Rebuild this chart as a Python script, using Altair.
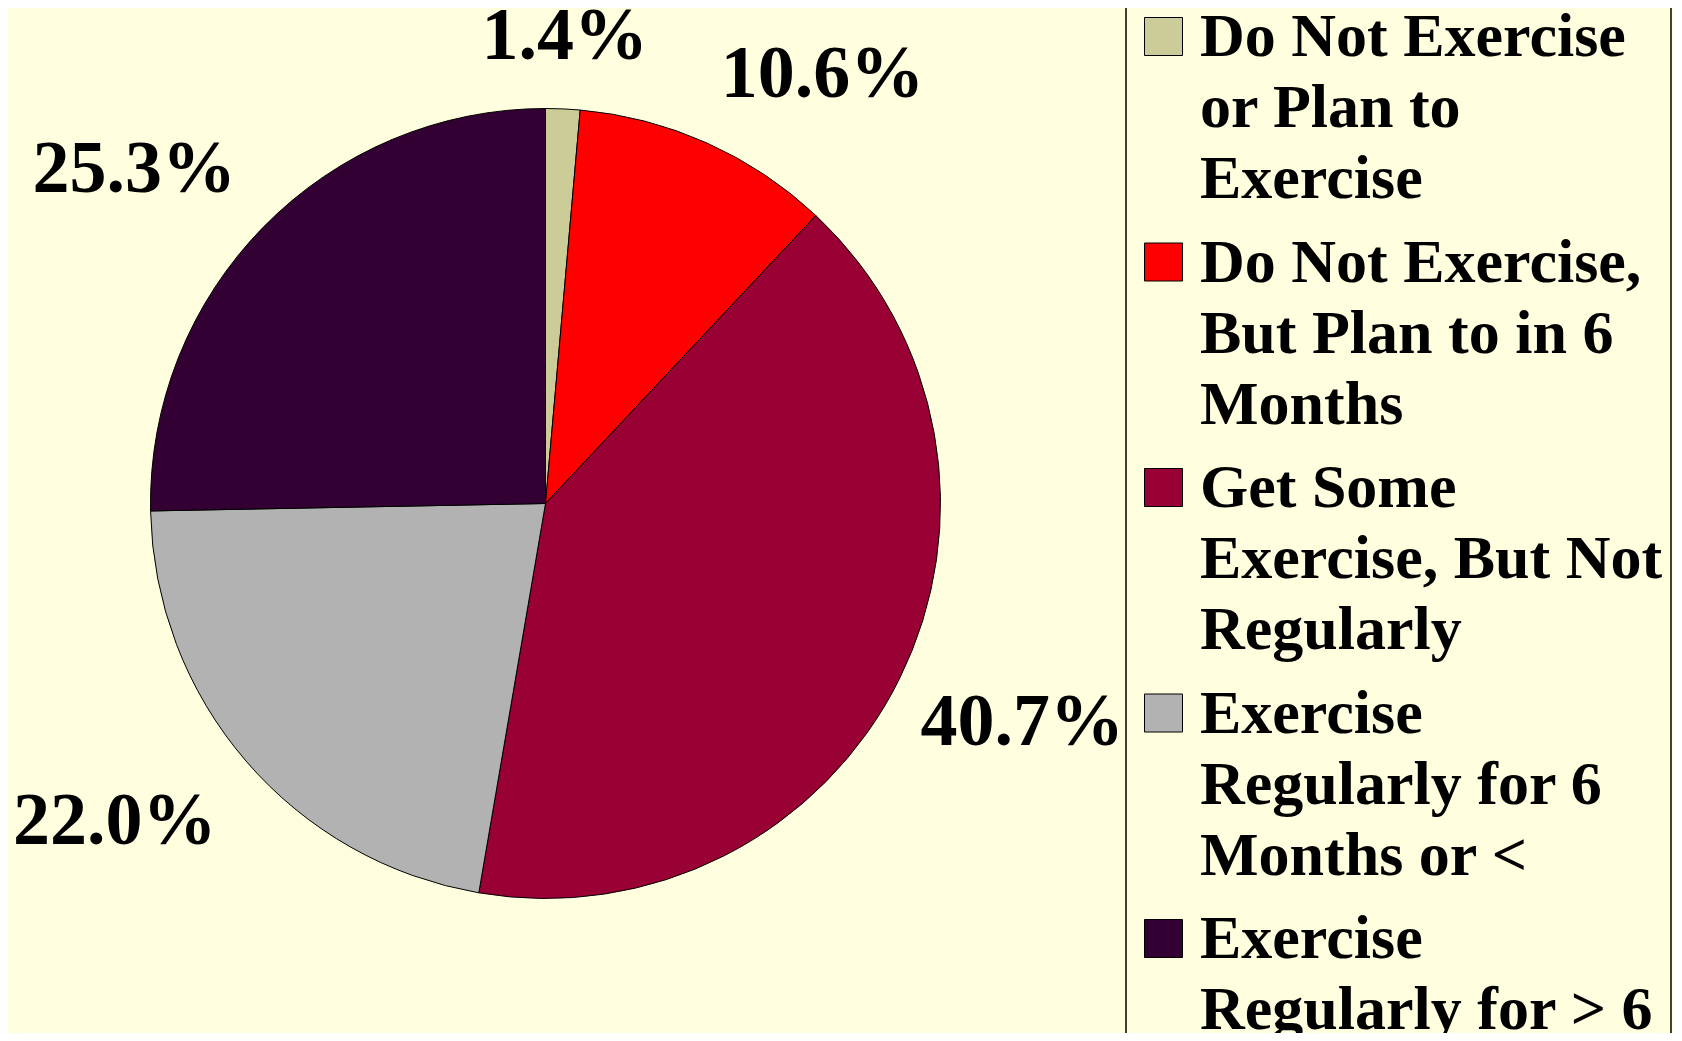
import altair as alt
import pandas as pd

# ---------------- data ----------------
categories = [
    "Do Not Exercise or Plan to Exercise",
    "Do Not Exercise, But Plan to in 6 Months",
    "Get Some Exercise, But Not Regularly",
    "Exercise Regularly for 6 Months or <",
    "Exercise Regularly for > 6 Months",
]
values = [1.4, 10.6, 40.7, 22.0, 25.3]
colors = ["#CCCC99", "#FF0000", "#990033", "#B2B2B2", "#330033"]
legend_lines = [
    ["Do Not Exercise", "or Plan to", "Exercise"],
    ["Do Not Exercise,", "But Plan to in 6", "Months"],
    ["Get Some", "Exercise, But Not", "Regularly"],
    ["Exercise", "Regularly for 6", "Months or <"],
    ["Exercise", "Regularly for > 6", "Months"],
]

# ---------------- style / layout ----------------
BG = "#FFFFE0"
FONT = "Liberation Serif"
W, H = 1666, 1025     # whole chart
CX, CY = 537.5, 495.5 # pie centre
R = 395               # pie radius
RCX, RCY = 440, 445   # where the label's nearest corner sits
XMAX = 574            # right limit of label boxes (from pie centre)
LABEL_SIZE = 74
HH = 25               # half cap height of labels
LEGEND_SIZE = 62
LX, LEG_W = 1118, 545 # legend box left edge and width
B0, LH = 48, 71       # first baseline, line height of legend
ENTRY_STEP = 225.5 / LH
SW_OFF = 19.5 / LH
Y0 = -B0 / LH
Y1 = (H - B0) / LH

color_scale = alt.Scale(domain=categories, range=colors)

pie_df = pd.DataFrame({"category": categories, "value": values,
                       "order": list(range(len(categories)))})
base = alt.Chart(pie_df)

arcs = base.mark_arc(outerRadius=R, stroke="black", strokeWidth=1).encode(
    x=alt.value(CX),
    y=alt.value(CY),
    theta=alt.Theta("value:Q", stack=True),
    color=alt.Color("category:N", scale=color_scale, legend=None),
    order=alt.Order("order:Q"),
)

labels = base.transform_window(
    cum="sum(value)", sort=[alt.SortField("order")], frame=[None, 0]
).transform_joinaggregate(
    total="sum(value)"
).transform_calculate(
    label="format(datum.value, '.1f') + '%'",
    mid="(datum.cum - datum.value / 2) / datum.total * 2 * PI",
    hw=f"((length(format(datum.value, '.1f')) - 1) * 0.5 + 1.25) * {LABEL_SIZE} / 2 * 0.955",
    sx="sin(datum.mid)",
    cy="cos(datum.mid)",
    fx="clamp((abs(datum.sx) - 0.1) / 0.3, 0, 1) * (datum.sx < 0 ? -1 : 1)",
    fy="clamp((abs(datum.cy) - 0.1) / 0.3, 0, 1) * (datum.cy < 0 ? -1 : 1)",
    px0=f"{RCX} * datum.sx + datum.hw * datum.fx",
    py0=f"-{RCY} * datum.cy - {HH} * datum.fy",
    over=f"datum.sx > 0.05 ? max(0, (datum.px0 + datum.hw - {XMAX}) / datum.sx) : 0",
    px="datum.px0 - datum.over * datum.sx",
    py="datum.py0 + datum.over * datum.cy",
    lr="sqrt(datum.px * datum.px + datum.py * datum.py)",
    la="atan2(datum.px, -datum.py)",
).mark_text(
    font=FONT, fontWeight="bold", fontSize=LABEL_SIZE, color="black",
    align="center", baseline="alphabetic", dy=HH,
).encode(
    x=alt.value(CX),
    y=alt.value(CY),
    theta=alt.Theta("la:Q", scale=None, stack=False),
    radius=alt.Radius("lr:Q", scale=None),
    text="label:N",
)

# ---------------- legend ----------------
rows = []
for i, lines in enumerate(legend_lines):
    for j, t in enumerate(lines):
        rows.append({"entry": i, "line": j, "text": t})
leg_text_df = pd.DataFrame(rows)
sw_df = pd.DataFrame({"category": categories, "entry": list(range(len(categories)))})

yscale = alt.Scale(domain=[Y0, Y1], reverse=True)

leg_text = alt.Chart(leg_text_df).transform_calculate(
    row=f"datum.entry * {ENTRY_STEP} + datum.line"
).mark_text(
    font=FONT, fontWeight="bold", fontSize=LEGEND_SIZE, color="black",
    align="left", baseline="alphabetic", clip=True,
).encode(
    x=alt.value(LX + 74),
    y=alt.Y("row:Q", scale=yscale, axis=None),
    text="text:N",
)

swatches = alt.Chart(sw_df).transform_calculate(
    row=f"datum.entry * {ENTRY_STEP} - {SW_OFF}"
).mark_square(
    size=38 * 38, filled=True, opacity=1, stroke="black", strokeWidth=1,
).encode(
    x=alt.value(LX + 37.5),
    y=alt.Y("row:Q", scale=yscale, axis=None),
    color=alt.Color("category:N", scale=color_scale, legend=None),
)

frame_df = pd.DataFrame({"side": [0]})
frame_left = alt.Chart(frame_df).mark_rule(color="black", strokeWidth=1.5).encode(
    x=alt.value(LX), y=alt.value(0), y2=alt.value(H)
)
frame_right = alt.Chart(frame_df).mark_rule(color="black", strokeWidth=1.5).encode(
    x=alt.value(LX + LEG_W), y=alt.value(0), y2=alt.value(H)
)

chart = alt.layer(
    arcs, labels, swatches, leg_text, frame_left, frame_right
).resolve_scale(theta="independent").properties(
    width=W, height=H, background=BG, padding=0,
    autosize=alt.AutoSizeParams(type="none"),
).configure_view(stroke=None)

chart.save("out.html", embed_options={"renderer": "svg", "actions": False})
